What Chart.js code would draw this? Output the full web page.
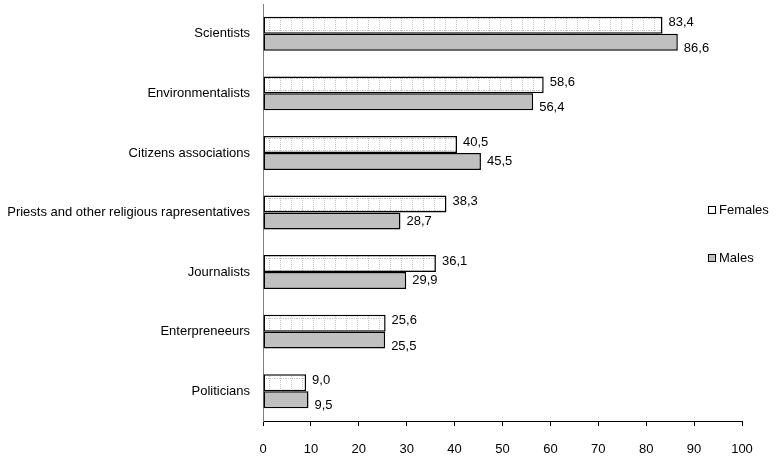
<!DOCTYPE html>
<html>
<head>
<meta charset="utf-8">
<script src="https://cdn.jsdelivr.net/npm/chart.js@4.4.1/dist/chart.umd.min.js"></script>
<style>
  html, body { margin: 0; padding: 0; background: #ffffff; }
  #wrap { width: 776px; height: 457px; position: relative; }
</style>
</head>
<body>
<div id="wrap"><canvas id="chart"></canvas></div>
<script>
// Categories and survey shares (%) by gender
const categories = [
  'Scientists',
  'Environmentalists',
  'Citizens associations',
  'Priests and other religious rapresentatives',
  'Journalists',
  'Enterpreneeurs',
  'Politicians'
];
const females = [83.4, 58.6, 40.5, 38.3, 36.1, 25.6, 9.0];
const males   = [86.6, 56.4, 45.5, 28.7, 29.9, 25.5, 9.5];
const seriesNames = ['Females', 'Males'];
const xTicks = [0, 10, 20, 30, 40, 50, 60, 70, 80, 90, 100];

const FONT = '"Liberation Sans", Arial, sans-serif';

// White fill with a light dotted grid for the female bars
function dottedPattern() {
  const c = document.createElement('canvas');
  c.width = 11; c.height = 12;
  const g = c.getContext('2d');
  g.fillStyle = '#ffffff';
  g.fillRect(0, 0, 11, 12);
  g.fillStyle = '#c4c4c4';
  for (let y = 0; y < 12; y += 2) g.fillRect(5, y, 1, 1);
  for (let x = 0; x < 11; x += 2) g.fillRect(x, 6, 1, 1);
  const ctx = document.getElementById('chart').getContext('2d');
  return ctx.createPattern(c, 'repeat');
}

const fmt = v => v.toFixed(1).replace('.', ',');

// Value labels at the end of each bar (comma decimal)
const valueLabels = {
  id: 'valueLabels',
  afterDatasetsDraw(chart) {
    const ctx = chart.ctx;
    ctx.save();
    ctx.font = '13px ' + FONT;
    ctx.fillStyle = '#000000';
    ctx.textAlign = 'left';
    ctx.textBaseline = 'middle';
    const fMeta = chart.getDatasetMeta(0);
    const mMeta = chart.getDatasetMeta(1);
    categories.forEach((_, i) => {
      const f = females[i], m = males[i];
      const fe = fMeta.data[i], me = mMeta.data[i];
      ctx.fillText(fmt(f), fe.x + 6, fe.y - 2.5);
      // push the lower label down when the two labels would collide
      const crowded = Math.abs(f - m) < 4;
      ctx.fillText(fmt(m), me.x + 6, me.y + (crowded ? 6 : 0));
    });
    ctx.restore();
  }
};

// Legend drawn at the right edge, overlapping the plot area
const sideLegend = {
  id: 'sideLegend',
  afterDraw(chart) {
    const ctx = chart.ctx;
    ctx.save();
    ctx.font = '13px ' + FONT;
    ctx.textAlign = 'left';
    ctx.textBaseline = 'middle';
    const x0 = 708;
    const ys = [210, 258];
    chart.data.datasets.forEach((ds, i) => {
      const y = ys[i];
      ctx.fillStyle = i === 0 ? '#ffffff' : '#c0c0c0';
      ctx.fillRect(x0, y - 4, 8, 8);
      ctx.strokeStyle = '#000000';
      ctx.lineWidth = 1;
      ctx.strokeRect(x0 + 0.5, y - 3.5, 7, 7);
      ctx.fillStyle = '#000000';
      ctx.fillText(ds.label, x0 + 11, y);
    });
    ctx.restore();
  }
};

new Chart(document.getElementById('chart'), {
  type: 'bar',
  data: {
    labels: categories,
    datasets: [
      {
        label: seriesNames[0],
        data: females,
        backgroundColor: dottedPattern(),
        borderColor: '#000000',
        borderWidth: 1.5,
        borderSkipped: false,
        categoryPercentage: 0.57,
        barPercentage: 1.0
      },
      {
        label: seriesNames[1],
        data: males,
        backgroundColor: '#c0c0c0',
        borderColor: '#000000',
        borderWidth: 1.5,
        borderSkipped: false,
        categoryPercentage: 0.57,
        barPercentage: 1.0
      }
    ]
  },
  options: {
    indexAxis: 'y',
    responsive: true,
    maintainAspectRatio: false,
    animation: false,
    layout: { padding: { top: 4, right: 34, left: 0, bottom: 0 } },
    plugins: {
      legend: { display: false },
      tooltip: { enabled: false }
    },
    scales: {
      x: {
        type: 'linear',
        min: 0,
        max: 100,
        afterBuildTicks(scale) { scale.ticks = xTicks.map(v => ({ value: v })); },
        afterFit(scale) { scale.height = 36; },
        grid: { drawOnChartArea: false, drawTicks: true, tickLength: 5, color: '#000000' },
        border: { display: true, color: '#000000', width: 1 },
        ticks: {
          color: '#000000',
          font: { family: FONT, size: 13 },
          padding: 16,
          maxRotation: 0,
          autoSkip: false
        }
      },
      y: {
        type: 'category',
        afterFit(scale) {
          scale.width = 263;
          scale.paddingTop = 0;
          scale.paddingBottom = 0;
        },
        grid: { display: false, drawTicks: false },
        border: { display: true, color: '#808080', width: 1 },
        ticks: {
          color: '#000000',
          font: { family: FONT, size: 13 },
          padding: 13,
          autoSkip: false
        }
      }
    }
  },
  plugins: [valueLabels, sideLegend]
});
</script>
</body>
</html>
